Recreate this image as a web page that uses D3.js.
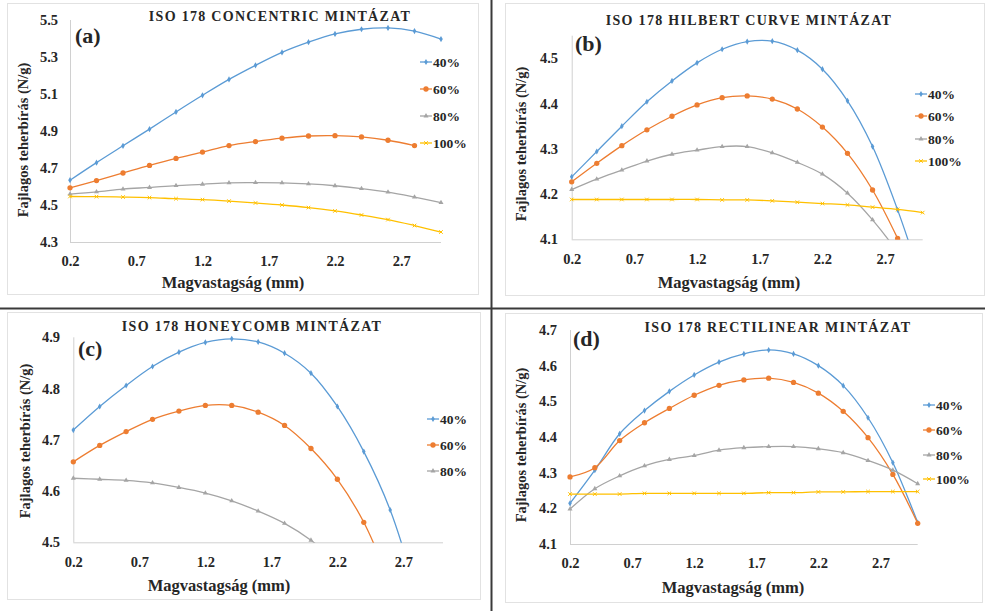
<!DOCTYPE html>
<html>
<head>
<meta charset="utf-8">
<script src="https://cdn.jsdelivr.net/npm/d3@7/dist/d3.min.js"></script>
<style>
  body { margin: 0; background: #fff; }
  svg text { font-family: "Liberation Serif", "Times New Roman", serif; font-weight: bold; fill: #262626; }
</style>
</head>
<body>
<svg width="985" height="611"></svg>
<script>
// magvastagság (mm)
var xValues = [0.2, 0.4, 0.6, 0.8, 1.0, 1.2, 1.4, 1.6, 1.8, 2.0, 2.2, 2.4, 2.6, 2.8, 3.0];
var xTicks = [0.2, 0.7, 1.2, 1.7, 2.2, 2.7];
var seriesNames = ["40%", "60%", "80%", "100%"];
var colors = ["#5B9BD5", "#ED7D31", "#A5A5A5", "#FFC000"];

// (a) concentric
var concentric40 = [4.634, 4.729, 4.82, 4.91, 5.003, 5.093, 5.179, 5.255, 5.325, 5.38, 5.425, 5.45, 5.457, 5.44, 5.397];
var concentric60 = [4.593, 4.632, 4.673, 4.714, 4.752, 4.786, 4.821, 4.843, 4.861, 4.873, 4.875, 4.868, 4.85, 4.821];
var concentric80 = [4.559, 4.571, 4.586, 4.595, 4.605, 4.612, 4.62, 4.621, 4.62, 4.614, 4.604, 4.589, 4.57, 4.543, 4.513];
var concentric100 = [4.546, 4.545, 4.543, 4.54, 4.534, 4.529, 4.521, 4.511, 4.5, 4.486, 4.468, 4.446, 4.421, 4.389, 4.354];
var concentricTicks = [4.3, 4.5, 4.7, 4.9, 5.1, 5.3, 5.5];

// (b) hilbert curve
var hilbert40 = [4.238, 4.294, 4.35, 4.404, 4.45, 4.49, 4.52, 4.537, 4.538, 4.518, 4.476, 4.406, 4.305, 4.165, 4.0];
var hilbert60 = [4.227, 4.268, 4.307, 4.342, 4.372, 4.397, 4.413, 4.417, 4.41, 4.388, 4.348, 4.29, 4.209, 4.102];
var hilbert80 = [4.21, 4.233, 4.253, 4.273, 4.288, 4.297, 4.305, 4.305, 4.291, 4.27, 4.244, 4.202, 4.143, 4.07, 3.97];
var hilbert100 = [4.188, 4.188, 4.188, 4.188, 4.188, 4.188, 4.187, 4.187, 4.185, 4.182, 4.179, 4.176, 4.171, 4.166, 4.159];
var hilbertTicks = [4.1, 4.2, 4.3, 4.4, 4.5];

// (c) honeycomb
var honey40 = [4.719, 4.765, 4.806, 4.843, 4.871, 4.89, 4.897, 4.891, 4.869, 4.83, 4.765, 4.677, 4.563, 4.4, 4.2];
var honey60 = [4.657, 4.689, 4.716, 4.74, 4.756, 4.767, 4.767, 4.754, 4.728, 4.683, 4.623, 4.539, 4.42, 4.28, 4.1];
var honey80 = [4.625, 4.623, 4.621, 4.616, 4.607, 4.596, 4.581, 4.561, 4.537, 4.504, 4.46, 4.41, 4.35, 4.28, 4.2];
var honeyTicks = [4.5, 4.6, 4.7, 4.8, 4.9];

// (d) rectilinear
var rect40 = [4.214, 4.307, 4.409, 4.474, 4.528, 4.574, 4.61, 4.633, 4.644, 4.633, 4.6, 4.544, 4.454, 4.328, 4.16];
var rect60 = [4.288, 4.314, 4.39, 4.44, 4.48, 4.517, 4.545, 4.56, 4.565, 4.553, 4.523, 4.472, 4.398, 4.295, 4.158];
var rect80 = [4.198, 4.255, 4.291, 4.319, 4.337, 4.348, 4.363, 4.37, 4.373, 4.373, 4.367, 4.356, 4.334, 4.307, 4.269];
var rect100 = [4.24, 4.24, 4.24, 4.242, 4.242, 4.242, 4.242, 4.242, 4.244, 4.244, 4.246, 4.246, 4.247, 4.247, 4.247];
var rectTicks = [4.1, 4.2, 4.3, 4.4, 4.5, 4.6, 4.7];

var svg = d3.select("svg");

var panels = [
  {id: "a", title: "ISO 178 CONCENTRIC MINTÁZAT", series: [concentric40, concentric60, concentric80, concentric100],
   yTicks: concentricTicks, yDomain: [4.3, 5.5],
   box: [7, 3, 478, 294], x0: 70, x1: 441, yBot: 242, yTop: 20,
   titleX: 280, titleY: 21, tagX: 75, tagY: 43, yTitle: [23, 140], xTitle: [233, 288], xLabY: 265, yLabX: 58,
   legX: 420, legY: [62, 89, 116, 143]},
  {id: "b", title: "ISO 178 HILBERT CURVE MINTÁZAT", series: [hilbert40, hilbert60, hilbert80, hilbert100],
   yTicks: hilbertTicks, yDomain: [4.1, 4.55],
   box: [505, 3, 984, 295], x0: 571.7, x1: 922.7, yBot: 239.3, yTop: 35.7,
   titleX: 749, titleY: 25, tagX: 575, tagY: 51, yTitle: [521, 144], xTitle: [729, 288], xLabY: 263, yLabX: 558,
   legX: 915, legY: [94, 116, 139, 161]},
  {id: "c", title: "ISO 178 HONEYCOMB MINTÁZAT", series: [honey40, honey60, honey80],
   yTicks: honeyTicks, yDomain: [4.5, 4.9],
   box: [7, 312, 480, 599], x0: 73.3, x1: 443, yBot: 542.3, yTop: 337.3,
   titleX: 252, titleY: 331, tagX: 78, tagY: 356, yTitle: [25, 441], xTitle: [219, 591], xLabY: 567, yLabX: 60,
   legX: 427, legY: [419, 445, 471]},
  {id: "d", title: "ISO 178 RECTILINEAR MINTÁZAT", series: [rect40, rect60, rect80, rect100],
   yTicks: rectTicks, yDomain: [4.1, 4.7],
   box: [505, 313, 982, 602], x0: 570, x1: 917.7, yBot: 544, yTop: 330,
   titleX: 778, titleY: 332, tagX: 573, tagY: 346, yTitle: [521, 445], xTitle: [733, 593], xLabY: 567, yLabX: 557,
   legX: 923, legY: [405, 430, 455, 479]}
];

var symbols = [d3.symbolDiamond, d3.symbolCircle, d3.symbolTriangle, d3.symbolX];
var symbolSize = [11, 22, 11, 10];

panels.forEach(function(p) {
  var g = svg.append("g");

  g.append("rect")
    .attr("x", p.box[0] + 0.5).attr("y", p.box[1] + 0.5)
    .attr("width", p.box[2] - p.box[0]).attr("height", p.box[3] - p.box[1])
    .attr("fill", "#fff").attr("stroke", "#e2e2e2");

  var xScale = d3.scaleLinear().domain([0.2, 3.0]).range([p.x0, p.x1]);
  var yScale = d3.scaleLinear().domain(p.yDomain).range([p.yBot, p.yTop]);

  g.append("clipPath").attr("id", "clip-" + p.id)
    .append("rect")
    .attr("x", p.x0 - 4).attr("y", p.yTop - 6)
    .attr("width", p.x1 - p.x0 + 10).attr("height", p.yBot - p.yTop + 6.5);

  var xAxis = g.append("g")
    .attr("transform", "translate(0," + p.yBot + ")")
    .call(d3.axisBottom(xScale).tickValues(xTicks).tickSize(0).tickPadding(14).tickFormat(d3.format(".1f")));
  xAxis.selectAll("text").attr("font-size", 14.5).attr("fill", "#262626").attr("font-family", null);

  var yAxis = g.append("g")
    .attr("transform", "translate(" + p.x0 + ",0)")
    .call(d3.axisLeft(yScale).tickValues(p.yTicks).tickSize(0).tickPadding(p.x0 - p.yLabX).tickFormat(d3.format(".1f")));
  yAxis.selectAll("text").attr("font-size", 14.5).attr("fill", "#262626").attr("font-family", null);
  xAxis.select(".domain").attr("stroke", "#d0d0d0").attr("d", "M" + p.x0 + ",0.5H" + p.x1);
  yAxis.select(".domain").attr("stroke", "#d0d0d0").attr("d", "M0.5," + p.yBot + "V" + p.yTop);

  var plot = g.append("g").attr("clip-path", "url(#clip-" + p.id + ")");
  var line = d3.line()
    .x(function(d, i) { return xScale(xValues[i]); })
    .y(function(d) { return yScale(d); })
    .curve(d3.curveCatmullRom.alpha(0.5));

  p.series.forEach(function(vals, k) {
    plot.append("path")
      .datum(vals)
      .attr("d", line)
      .attr("fill", "none")
      .attr("stroke", colors[k])
      .attr("stroke-width", 1.3);

    plot.selectAll(".m" + k)
      .data(vals)
      .enter()
      .append("path")
      .attr("class", "m" + k)
      .attr("transform", function(d, i) { return "translate(" + xScale(xValues[i]) + "," + yScale(d) + ")"; })
      .attr("d", d3.symbol().type(symbols[k]).size(symbolSize[k]))
      .attr("fill", colors[k])
      .attr("stroke", k == 3 ? colors[k] : "none")
      .attr("stroke-width", 1);

    // legend entry
    var ly = p.legY[k];
    g.append("line")
      .attr("x1", p.legX).attr("x2", p.legX + 12)
      .attr("y1", ly).attr("y2", ly)
      .attr("stroke", colors[k]).attr("stroke-width", 1.3);
    g.append("path")
      .attr("transform", "translate(" + (p.legX + 6) + "," + ly + ")")
      .attr("d", d3.symbol().type(symbols[k]).size(symbolSize[k]))
      .attr("fill", colors[k])
      .attr("stroke", k == 3 ? colors[k] : "none");
    g.append("text")
      .attr("x", p.legX + 13).attr("y", ly + 4.5)
      .attr("font-size", 13.5)
      .text(seriesNames[k]);
  });

  g.append("text")
    .attr("x", p.titleX).attr("y", p.titleY)
    .attr("text-anchor", "middle")
    .attr("font-size", 14)
    .attr("letter-spacing", 1.3)
    .text(p.title);

  g.append("text")
    .attr("x", p.tagX).attr("y", p.tagY)
    .attr("font-size", 22)
    .attr("fill", "#000")
    .text("(" + p.id + ")");

  g.append("text")
    .attr("transform", "translate(" + p.yTitle[0] + "," + p.yTitle[1] + ") rotate(-90)")
    .attr("text-anchor", "middle")
    .attr("dy", "0.35em")
    .attr("font-size", 14.5)
    .text("Fajlagos teherbírás (N/g)");

  g.append("text")
    .attr("x", p.xTitle[0]).attr("y", p.xTitle[1])
    .attr("text-anchor", "middle")
    .attr("font-size", 16.5)
    .text("Magvastagság (mm)");
});

// separators between the four charts
svg.append("line").attr("x1", 491.5).attr("x2", 491.5).attr("y1", 0).attr("y2", 611)
  .attr("stroke", "#3a3a3a").attr("stroke-width", 2);
svg.append("line").attr("x1", 0).attr("x2", 985).attr("y1", 308.5).attr("y2", 308.5)
  .attr("stroke", "#3a3a3a").attr("stroke-width", 2);
</script>
</body>
</html>
